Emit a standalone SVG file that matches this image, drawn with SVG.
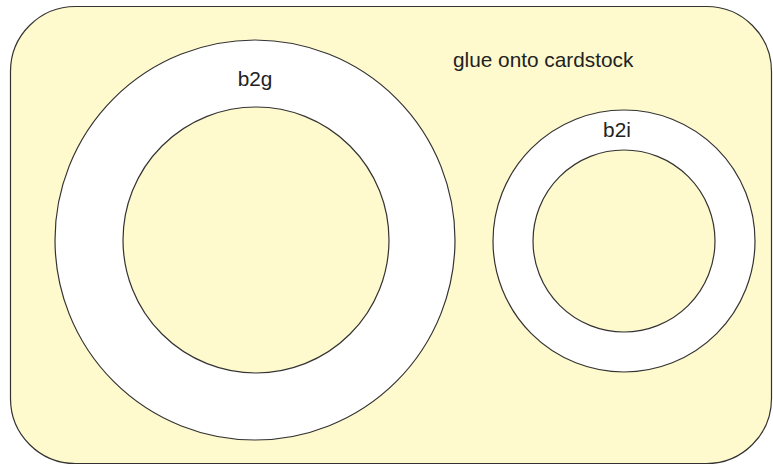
<svg xmlns="http://www.w3.org/2000/svg" width="773" height="466" viewBox="0 0 773 466">
<style>
.bg{fill:#fffacd;stroke:#333;stroke-width:1.2}
.ring{fill:#fff;stroke:#333;stroke-width:1.2}
.hole{fill:#fffacd;stroke:#333;stroke-width:1.2}
text{font-family:"Liberation Sans",Arial,sans-serif;font-size:20.8px;fill:#222}
</style>
<g id="cardstock">
<rect class="bg" x="10.5" y="6.5" width="761" height="457" rx="65" ry="65"/>
<text x="453" y="67">glue onto cardstock</text>
</g>
<g id="b2g">
<circle class="ring" cx="255" cy="240" r="200"/>
<circle class="hole" cx="256" cy="240" r="133"/>
<text x="255" y="86" text-anchor="middle">b2g</text>
</g>
<g id="b2i">
<circle class="ring" cx="624" cy="241" r="131"/>
<circle class="hole" cx="624" cy="241" r="91"/>
<text x="617" y="137" text-anchor="middle">b2i</text>
</g>
<g id="connectors"/>
</svg>
